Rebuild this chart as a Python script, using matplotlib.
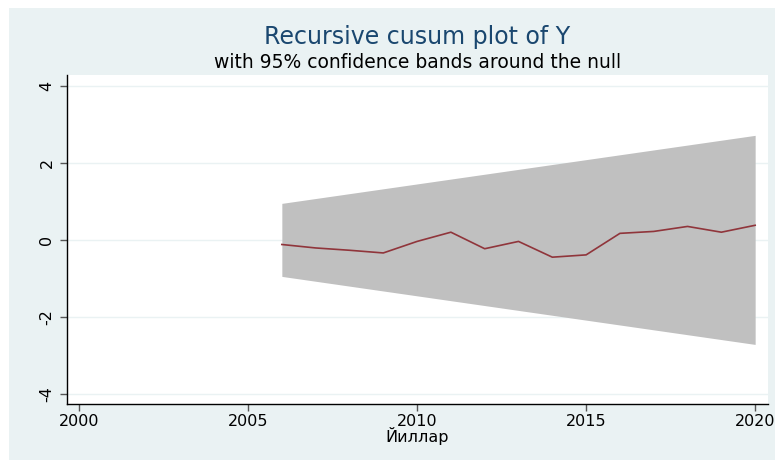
import numpy as np
import matplotlib.pyplot as plt
from matplotlib.patches import Rectangle

# Datos
anios = [2006, 2007, 2008, 2009, 2010, 2011, 2012, 2013, 2014, 2015, 2016, 2017, 2018, 2019, 2020]
cusum = [-0.12, -0.21, -0.27, -0.34, -0.04, 0.20, -0.23, -0.04, -0.45, -0.39, 0.17, 0.22, 0.35, 0.20, 0.38]
banda_anios = [2006, 2020]
banda_sup = [0.95, 2.72]
banda_inf = [-0.95, -2.72]

xticks = [2000, 2005, 2010, 2015, 2020]
yticks = [-4, -2, 0, 2, 4]

plt.rcParams['font.family'] = ['DejaVu Sans']

W, H = 775, 461
fig = plt.figure(figsize=(W/100, H/100), dpi=100, facecolor='white')
# fondo de Stata
fig.patches.append(Rectangle((9/W, 1 - 460/H), (W-9)/W, (460-8)/H,
                             transform=fig.transFigure, facecolor='#EAF2F3',
                             edgecolor='none', zorder=-1))

ax = fig.add_axes([67/W, 1 - 404/H, (768-67)/W, (404-75)/H])
ax.set_facecolor('white')

ax.fill_between(banda_anios, banda_inf, banda_sup, color='#C0C0C0', lw=0, zorder=2)
ax.plot(anios, cusum, color='#90353B', lw=1.2, zorder=3)

ax.set_xlim(1999.645, 2020.38)
ax.set_ylim(-4.27, 4.29)
ax.set_xticks(xticks)
ax.set_yticks(yticks)
ax.set_yticklabels([str(v) for v in yticks], rotation=90, va='center')
ax.tick_params(axis='both', labelsize=11.5, length=5, width=1, color='#555555')
ax.tick_params(axis='y', pad=4)
ax.tick_params(axis='x', pad=2)
ax.grid(axis='y', color='#EAF2F3', lw=1, zorder=1)
ax.set_axisbelow(True)

for s in ['top', 'right']:
    ax.spines[s].set_visible(False)
for s in ['left', 'bottom']:
    ax.spines[s].set_color('black')
    ax.spines[s].set_linewidth(1)

ax.set_xlabel('Йиллар', fontsize=11.5, labelpad=-1)

# titulos centrados sobre el area del grafico
xc = (67 + 768) / 2 / W
fig.text(xc, 1 - 37/H, 'Recursive cusum plot of Y', ha='center', va='center',
         fontsize=17, color='#1A476F')
fig.text(xc, 1 - 62/H, 'with 95% confidence bands around the null', ha='center',
         va='center', fontsize=13.5, color='black')

plt.savefig('out.png', dpi=100, facecolor='white')
plt.close()
